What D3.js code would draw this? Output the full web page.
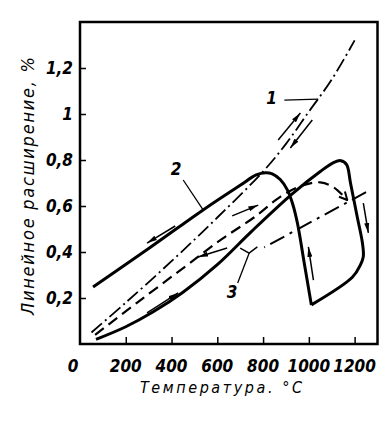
<!DOCTYPE html>
<html>
<head>
<meta charset="utf-8">
<script src="https://cdn.jsdelivr.net/npm/d3@7"></script>
<style>
  body { margin: 0; background: #fff; }
  text { font-family: "DejaVu Sans Condensed", "DejaVu Sans", sans-serif; font-style: italic; fill: #000; }
</style>
</head>
<body>
<svg id="chart"></svg>
<script>
const width = 388;
const height = 421;

// curve 1 (dash-dot), reversible
const temp1 = [50, 200, 400, 600, 800, 900, 1000, 1100, 1200];
const exp1 = [0.05, 0.18, 0.36, 0.55, 0.75, 0.87, 1.01, 1.15, 1.32];

// curve 2 (solid): heating branch, then cooling branch
const temp2Heat = [70, 200, 320, 450, 600, 750, 930, 1050, 1110, 1140, 1165, 1182, 1212, 1234, 1238, 1225, 1190, 1011];
const exp2Heat = [0.02, 0.075, 0.14, 0.225, 0.345, 0.49, 0.655, 0.75, 0.79, 0.797, 0.78, 0.70, 0.55, 0.44, 0.38, 0.343, 0.29, 0.17];
const temp2Cool = [1011, 980, 950, 928, 906, 875, 840, 810, 770, 700, 538, 300, 57];
const exp2Cool = [0.17, 0.351, 0.526, 0.613, 0.67, 0.715, 0.74, 0.745, 0.735, 0.69, 0.583, 0.415, 0.248];

// curve 3 (dashed)
const temp3Heat = [66, 250, 464, 621, 760, 875, 960, 1050, 1110, 1168];
const exp3Heat = [0.04, 0.18, 0.34, 0.457, 0.55, 0.64, 0.685, 0.703, 0.68, 0.626];
const temp3Cool = [1250, 805];
const exp3Cool = [0.66, 0.42];

const xTicks = [0, 200, 400, 600, 800, 1000, 1200];
const yTicks = [0.2, 0.4, 0.6, 0.8, 1, 1.2];

// little direction arrows along the curves [t0, e0, t1, e1]
const arrows = [
    [866, 0.887, 963, 1.004],
    [1015, 0.974, 919, 0.852],
    [416, 0.513, 293, 0.439],
    [293, 0.135, 429, 0.222],
    [1238, 0.613, 1260, 0.483],
    [1020, 0.278, 998, 0.422],
    [665, 0.557, 779, 0.604],
    [643, 0.417, 516, 0.378]
];

const zip = (xs, ys) => xs.map((t, i) => [t, ys[i]]);

const svg = d3.select("#chart")
    .attr("width", width)
    .attr("height", height);

const x = d3.scaleLinear().domain([0, 1300]).range([80, 377.5]);
const y = d3.scaleLinear().domain([0, 1.4]).range([344, 22]);

const defs = svg.append("defs");
defs.append("marker")
    .attr("id", "head")
    .attr("viewBox", "0 0 10 6")
    .attr("refX", 10).attr("refY", 3)
    .attr("markerWidth", 10).attr("markerHeight", 6)
    .attr("markerUnits", "userSpaceOnUse")
    .attr("orient", "auto")
    .append("path")
    .attr("d", "M0,0.5 L10,3 L0,5.5 Z")
    .attr("fill", "#000");
defs.append("marker")
    .attr("id", "chev")
    .attr("viewBox", "0 0 10 10")
    .attr("refX", 9).attr("refY", 5)
    .attr("markerWidth", 10).attr("markerHeight", 10)
    .attr("markerUnits", "userSpaceOnUse")
    .attr("orient", "auto")
    .append("path")
    .attr("d", "M1,1 L9,5 L1,9")
    .attr("fill", "none")
    .attr("stroke", "#000")
    .attr("stroke-width", 2);

const line = d3.line()
    .x(d => x(d[0]))
    .y(d => y(d[1]))
    .curve(d3.curveCatmullRom.alpha(0.5));

// frame
svg.append("rect")
    .attr("x", x(0)).attr("y", y(1.4))
    .attr("width", x(1300) - x(0))
    .attr("height", y(0) - y(1.4))
    .attr("fill", "none")
    .attr("stroke", "#000")
    .attr("stroke-width", 2.5);

// inner ticks
const xAxis = d3.axisTop(x).tickValues(xTicks.slice(1)).tickSize(7).tickFormat("");
svg.append("g").attr("transform", `translate(0,${y(0)})`).call(xAxis)
    .call(g => g.select(".domain").remove())
    .selectAll("line").attr("stroke-width", 1.5);
const yAxis = d3.axisRight(y).tickValues(yTicks).tickSize(6).tickFormat("");
svg.append("g").attr("transform", `translate(${x(0)},0)`).call(yAxis)
    .call(g => g.select(".domain").remove())
    .selectAll("line").attr("stroke-width", 1.5);

// tick labels
svg.append("g").selectAll("text")
    .data(xTicks)
    .enter().append("text")
    .attr("x", d => d === 0 ? x(d) - 7 : x(d))
    .attr("y", 372)
    .attr("text-anchor", "middle")
    .attr("font-size", 17)
    .attr("font-weight", "bold")
    .text(d => d);

svg.append("g").selectAll("text")
    .data(yTicks)
    .enter().append("text")
    .attr("x", 73)
    .attr("y", d => y(d) + 6)
    .attr("text-anchor", "end")
    .attr("font-size", 17)
    .attr("font-weight", "bold")
    .text(d => String(d).replace(".", ","));

// axis titles
svg.append("text")
    .attr("x", 221).attr("y", 393)
    .attr("text-anchor", "middle")
    .attr("font-size", 16)
    .attr("textLength", 162)
    .attr("lengthAdjust", "spacing")
    .text("Температура. °C");

svg.append("text")
    .attr("transform", "translate(34,186) rotate(-90)")
    .attr("text-anchor", "middle")
    .attr("font-size", 18)
    .attr("textLength", 258)
    .attr("lengthAdjust", "spacing")
    .text("Линейное расширение, %");

// curves
svg.append("path")
    .attr("d", line(zip(temp1, exp1)))
    .attr("fill", "none").attr("stroke", "#000")
    .attr("stroke-width", 1.8)
    .attr("stroke-dasharray", "14,4,2,4");

svg.append("path")
    .attr("d", line(zip(temp2Heat, exp2Heat)) + line(zip(temp2Cool, exp2Cool)))
    .attr("fill", "none").attr("stroke", "#000")
    .attr("stroke-width", 3)
    .attr("stroke-linejoin", "round");

svg.append("path")
    .attr("d", line(zip(temp3Heat, exp3Heat)))
    .attr("fill", "none").attr("stroke", "#000")
    .attr("stroke-width", 2.2)
    .attr("stroke-dasharray", "11,6")
    .attr("marker-end", "url(#chev)");

svg.append("path")
    .attr("d", line(zip(temp3Cool, exp3Cool)))
    .attr("fill", "none").attr("stroke", "#000")
    .attr("stroke-width", 2)
    .attr("stroke-dasharray", "16,6,3,6");

// direction arrows
svg.append("g").selectAll("line")
    .data(arrows)
    .enter().append("line")
    .attr("x1", d => x(d[0])).attr("y1", d => y(d[1]))
    .attr("x2", d => x(d[2])).attr("y2", d => y(d[3]))
    .attr("stroke", "#000")
    .attr("stroke-width", 1.5)
    .attr("marker-end", "url(#head)");

// curve labels with leaders
const labels = [
    {name: "1", t: 837, e: 1.045, from: [893, 1.06], to: [1041, 1.065]},
    {name: "2", t: 420, e: 0.735, from: [451, 0.713], to: [538, 0.583]},
    {name: "3", t: 665, e: 0.20, from: [689, 0.265], to: [739, 0.395]}
];
svg.append("g").selectAll("line")
    .data(labels)
    .enter().append("line")
    .attr("x1", d => x(d.from[0])).attr("y1", d => y(d.from[1]))
    .attr("x2", d => x(d.to[0])).attr("y2", d => y(d.to[1]))
    .attr("stroke", "#000").attr("stroke-width", 1.3);
svg.append("g").selectAll("text")
    .data(labels)
    .enter().append("text")
    .attr("x", d => x(d.t)).attr("y", d => y(d.e))
    .attr("text-anchor", "middle")
    .attr("font-size", 17)
    .attr("font-weight", "bold")
    .text(d => d.name);

// bracket joining the two branches of curve 3
const bracketT = [700, 739, 775];
const bracketE = [0.417, 0.395, 0.422];
svg.append("path")
    .attr("d", d3.line().x(d => x(d[0])).y(d => y(d[1]))(zip(bracketT, bracketE)))
    .attr("fill", "none").attr("stroke", "#000").attr("stroke-width", 1.5);
</script>
</body>
</html>
